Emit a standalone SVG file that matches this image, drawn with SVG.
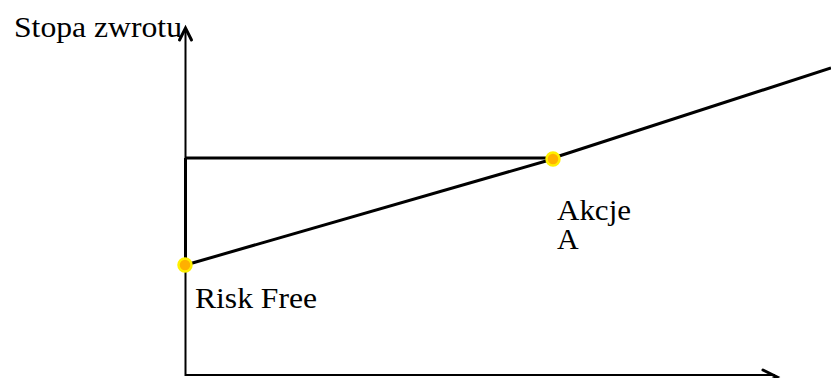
<svg xmlns="http://www.w3.org/2000/svg" width="831" height="378" viewBox="0 0 831 378">
  <style>
    .axis { stroke: #000; stroke-width: 2; fill: none; }
    .line { stroke: #000; stroke-width: 3; fill: none; stroke-linecap: butt; }
    .head { stroke: #000; stroke-width: 3; fill: none; stroke-linecap: round; stroke-linejoin: miter; }
    .pt { fill: #FFB000; stroke: #FFF000; stroke-width: 2.5; }
    text { font-size: 30px; fill: #000; }
  </style>
  <rect width="831" height="378" fill="#fff"/>

  <g id="connectors">
    <!-- axes -->
    <line class="axis" x1="185.5" y1="376" x2="185.5" y2="30"/>
    <polyline class="head" points="179.5,40 185.5,28 191.5,40"/>
    <line class="axis" x1="185.5" y1="375" x2="775" y2="375"/>
    <polyline class="head" points="763,370 777,377 763,384"/>
    <!-- risk-free leg and level of A -->
    <line class="line" x1="185.5" y1="158" x2="185.5" y2="265"/>
    <line class="line" x1="185.5" y1="158" x2="553" y2="158"/>
    <!-- market line -->
    <line class="line" x1="185.5" y1="265" x2="553" y2="159"/>
    <line class="line" x1="553" y1="158" x2="831" y2="68"/>
  </g>

  <g font-family="Liberation Serif, DejaVu Serif, Times New Roman, serif">
    <g id="risk-free">
      <circle class="pt" cx="185" cy="265" r="6.5"/>
      <text x="195" y="308" textLength="122" lengthAdjust="spacingAndGlyphs">Risk Free</text>
    </g>

    <g id="akcje-a">
      <circle class="pt" cx="553" cy="159" r="6.5"/>
      <text x="557" y="220" textLength="74" lengthAdjust="spacingAndGlyphs">Akcje</text>
      <text x="557" y="249">A</text>
    </g>

    <g id="y-label">
      <text x="14" y="37" textLength="168" lengthAdjust="spacingAndGlyphs">Stopa zwrotu</text>
    </g>
  </g>
</svg>
